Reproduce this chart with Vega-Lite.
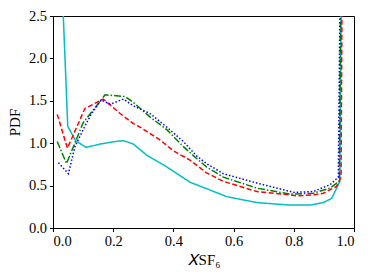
{
  "$schema": "https://vega.github.io/schema/vega-lite/v6.json",
  "width": 301,
  "height": 212,
  "autosize": {"type": "none"},
  "padding": {"left": 53, "top": 16, "right": 20, "bottom": 52},
  "config": {
    "view": {"stroke": "black", "strokeWidth": 1},
    "axis": {
      "grid": false,
      "domainColor": "black",
      "domainWidth": 1,
      "tickColor": "black",
      "tickSize": 3.5,
      "tickWidth": 1,
      "labelFont": "Liberation Serif",
      "labelFontSize": 14.5,
      "labelColor": "black",
      "labelPadding": 3,
      "titleFont": "Liberation Serif",
      "titleFontSize": 15,
      "titleFontWeight": "normal",
      "titleColor": "black"
    }
  },
  "data": {
    "values": [
      {"s": "cyan", "x": 0.02, "y": 3.75},
      {"s": "cyan", "x": 0.049, "y": 1.2},
      {"s": "cyan", "x": 0.075, "y": 1.03},
      {"s": "cyan", "x": 0.11, "y": 0.95},
      {"s": "cyan", "x": 0.156, "y": 0.99},
      {"s": "cyan", "x": 0.206, "y": 1.02},
      {"s": "cyan", "x": 0.234, "y": 1.03},
      {"s": "cyan", "x": 0.267, "y": 0.99},
      {"s": "cyan", "x": 0.311, "y": 0.86},
      {"s": "cyan", "x": 0.378, "y": 0.72},
      {"s": "cyan", "x": 0.455, "y": 0.54},
      {"s": "cyan", "x": 0.52, "y": 0.45},
      {"s": "cyan", "x": 0.577, "y": 0.37},
      {"s": "cyan", "x": 0.677, "y": 0.3},
      {"s": "cyan", "x": 0.787, "y": 0.27},
      {"s": "cyan", "x": 0.854, "y": 0.27},
      {"s": "cyan", "x": 0.898, "y": 0.3},
      {"s": "cyan", "x": 0.926, "y": 0.35},
      {"s": "cyan", "x": 0.953, "y": 0.55},
      {"s": "cyan", "x": 0.97, "y": 9},
      {"s": "red", "x": 0.014, "y": 1.34},
      {"s": "red", "x": 0.048, "y": 0.94},
      {"s": "red", "x": 0.106, "y": 1.41},
      {"s": "red", "x": 0.167, "y": 1.52},
      {"s": "red", "x": 0.223, "y": 1.35},
      {"s": "red", "x": 0.267, "y": 1.23},
      {"s": "red", "x": 0.289, "y": 1.19},
      {"s": "red", "x": 0.355, "y": 1.04},
      {"s": "red", "x": 0.4, "y": 0.91},
      {"s": "red", "x": 0.455, "y": 0.8},
      {"s": "red", "x": 0.51, "y": 0.65},
      {"s": "red", "x": 0.566, "y": 0.55},
      {"s": "red", "x": 0.677, "y": 0.43},
      {"s": "red", "x": 0.787, "y": 0.39},
      {"s": "red", "x": 0.81, "y": 0.38},
      {"s": "red", "x": 0.865, "y": 0.39},
      {"s": "red", "x": 0.898, "y": 0.41},
      {"s": "red", "x": 0.942, "y": 0.49},
      {"s": "red", "x": 0.957, "y": 0.6},
      {"s": "red", "x": 0.97, "y": 9},
      {"s": "green", "x": 0.014, "y": 1.02},
      {"s": "green", "x": 0.045, "y": 0.76},
      {"s": "green", "x": 0.1, "y": 1.24},
      {"s": "green", "x": 0.173, "y": 1.57},
      {"s": "green", "x": 0.24, "y": 1.55},
      {"s": "green", "x": 0.267, "y": 1.48},
      {"s": "green", "x": 0.322, "y": 1.31},
      {"s": "green", "x": 0.378, "y": 1.16},
      {"s": "green", "x": 0.433, "y": 0.96},
      {"s": "green", "x": 0.477, "y": 0.82},
      {"s": "green", "x": 0.51, "y": 0.72},
      {"s": "green", "x": 0.566, "y": 0.6},
      {"s": "green", "x": 0.677, "y": 0.47},
      {"s": "green", "x": 0.787, "y": 0.4},
      {"s": "green", "x": 0.865, "y": 0.41},
      {"s": "green", "x": 0.92, "y": 0.47},
      {"s": "green", "x": 0.951, "y": 0.55},
      {"s": "green", "x": 0.97, "y": 9},
      {"s": "blue", "x": 0.018, "y": 0.77},
      {"s": "blue", "x": 0.051, "y": 0.64},
      {"s": "blue", "x": 0.073, "y": 0.96},
      {"s": "blue", "x": 0.1, "y": 1.16},
      {"s": "blue", "x": 0.128, "y": 1.35},
      {"s": "blue", "x": 0.16, "y": 1.51},
      {"s": "blue", "x": 0.19, "y": 1.46},
      {"s": "blue", "x": 0.234, "y": 1.52},
      {"s": "blue", "x": 0.267, "y": 1.44},
      {"s": "blue", "x": 0.322, "y": 1.35},
      {"s": "blue", "x": 0.378, "y": 1.19},
      {"s": "blue", "x": 0.433, "y": 1.02},
      {"s": "blue", "x": 0.477, "y": 0.85},
      {"s": "blue", "x": 0.51, "y": 0.76},
      {"s": "blue", "x": 0.566, "y": 0.64},
      {"s": "blue", "x": 0.677, "y": 0.53},
      {"s": "blue", "x": 0.8, "y": 0.42},
      {"s": "blue", "x": 0.865, "y": 0.43},
      {"s": "blue", "x": 0.92, "y": 0.51},
      {"s": "blue", "x": 0.948, "y": 0.6},
      {"s": "blue", "x": 0.97, "y": 9}
    ]
  },
  "mark": {"type": "line", "clip": true, "strokeWidth": 1.5},
  "encoding": {
    "x": {
      "field": "x",
      "type": "quantitative",
      "scale": {"domain": [0, 1], "nice": false, "zero": false},
      "axis": {"values": [0, 0.2, 0.4, 0.6, 0.8, 1], "format": ".1f", "title": "𝑋SF₆", "titleFontSize": 15, "titlePadding": 4}
    },
    "y": {
      "field": "y",
      "type": "quantitative",
      "scale": {"domain": [0, 2.5], "nice": false, "zero": false},
      "axis": {"values": [0, 0.5, 1, 1.5, 2, 2.5], "format": ".1f", "title": "PDF", "titlePadding": 6}
    },
    "color": {
      "field": "s",
      "type": "nominal",
      "scale": {"domain": ["cyan", "red", "green", "blue"], "range": ["#00bfbf", "#ff0000", "#008000", "#0000ff"]},
      "legend": null
    },
    "strokeDash": {
      "field": "s",
      "type": "nominal",
      "scale": {"domain": ["cyan", "red", "green", "blue"], "range": [[1, 0], [5, 2.5], [7, 2, 1.5, 2], [1.5, 2]]},
      "legend": null
    }
  }
}
